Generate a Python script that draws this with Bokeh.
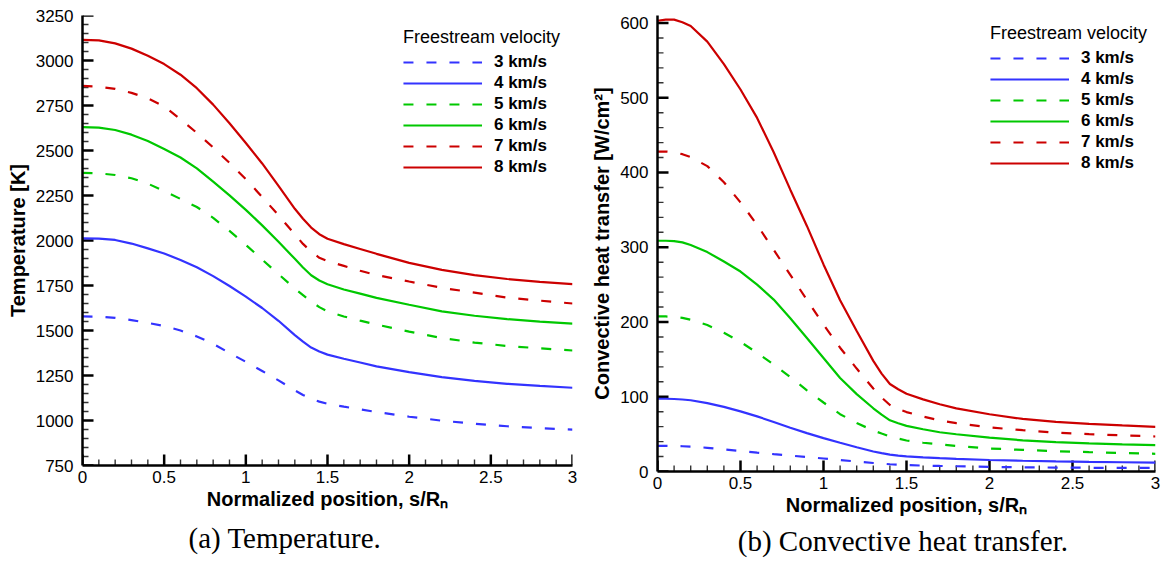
from bokeh.plotting import figure
from bokeh.models import Range1d, FixedTicker, NumeralTickFormatter, Legend, LegendItem, Title
from bokeh.layouts import row
from bokeh.embed import file_html
from bokeh.resources import INLINE
import numpy as np

# ---------------- data ----------------
velocities = ["3 km/s", "4 km/s", "5 km/s", "6 km/s", "7 km/s", "8 km/s"]

# (a) Temperature [K] vs normalized position s/Rn
pos_T = [0, 0.1, 0.2, 0.3, 0.4, 0.5, 0.6, 0.7, 0.8, 0.9, 1.0, 1.1, 1.2, 1.3, 1.35, 1.4,
         1.45, 1.5, 1.6, 1.7, 1.8, 2.0, 2.2, 2.4, 2.6, 2.8, 3.0]
T_3 = [1578, 1577, 1570, 1558, 1542, 1525, 1500, 1467, 1426, 1375, 1326, 1275, 1223, 1167,
       1142, 1120, 1105, 1093, 1077, 1062, 1047, 1021, 999, 982, 968, 958, 949]
T_4 = [2012, 2010, 2003, 1983, 1956, 1928, 1892, 1851, 1802, 1747, 1688, 1625, 1554, 1474,
       1438, 1405, 1383, 1366, 1343, 1322, 1301, 1269, 1241, 1220, 1204, 1192, 1182]
T_5 = [2376, 2373, 2364, 2346, 2316, 2274, 2231, 2186, 2126, 2053, 1976, 1894, 1813, 1733,
       1697, 1661, 1630, 1606, 1578, 1555, 1533, 1494, 1458, 1433, 1414, 1401, 1389]
T_6 = [2630, 2627, 2614, 2588, 2553, 2508, 2461, 2401, 2327, 2251, 2170, 2084, 1993, 1898,
       1850, 1807, 1778, 1757, 1728, 1705, 1681, 1643, 1606, 1582, 1563, 1549, 1538]
T_7 = [2859, 2855, 2842, 2820, 2790, 2745, 2673, 2598, 2517, 2431, 2341, 2242, 2140, 2034,
       1981, 1938, 1904, 1885, 1859, 1832, 1808, 1772, 1737, 1710, 1683, 1666, 1650]
T_8 = [3115, 3112, 3095, 3066, 3026, 2980, 2921, 2846, 2755, 2651, 2542, 2428, 2304, 2176,
       2121, 2072, 2035, 2010, 1980, 1953, 1926, 1876, 1837, 1808, 1786, 1770, 1758]

# (b) Convective heat transfer [W/cm^2] vs normalized position s/Rn
pos_q = [0, 0.05, 0.1, 0.15, 0.2, 0.3, 0.4, 0.5, 0.6, 0.7, 0.8, 0.9, 1.0, 1.1, 1.2, 1.3,
         1.35, 1.4, 1.45, 1.5, 1.6, 1.7, 1.8, 2.0, 2.2, 2.4, 2.6, 2.8, 3.0]
q_3 = [34.4, 34.4, 34.2, 33.8, 33.3, 31.7, 29.6, 27.5, 25.3, 23.2, 21.3, 19.3, 17.4, 15.4,
       13.3, 11.4, 10.5, 9.7, 9.1, 8.6, 7.9, 7.4, 7.0, 6.2, 5.6, 5.3, 5.0, 4.8, 4.7]
q_4 = [97.3, 97.3, 97.0, 96.3, 95.3, 91.5, 86.5, 80.4, 73.7, 66.3, 58.6, 51.3, 44.6, 38.4,
       32.4, 26.8, 24.5, 22.6, 21.3, 20.3, 18.9, 17.8, 16.9, 15.4, 14.4, 13.6, 12.9, 12.4, 12.0]
q_5 = [207.4, 207.4, 206.8, 205.5, 203.0, 196.0, 185.6, 173.4, 158.8, 143.2, 126.2, 108.6,
       92.3, 76.7, 64.8, 54.8, 50.8, 47.0, 44.0, 41.5, 38.5, 36.2, 34.2, 30.8, 28.9, 27.2,
       25.9, 24.8, 23.7]
q_6 = [308.7, 308.7, 308.2, 306.5, 303.0, 293.5, 281.0, 267.5, 250.0, 230.0, 205.0, 178.5,
       151.8, 125.0, 103.5, 84.6, 76.0, 68.5, 64.5, 61.0, 56.5, 52.5, 49.8, 45.2, 41.7, 39.3,
       37.6, 36.3, 35.2]
q_7 = [428.0, 428.0, 427.0, 424.5, 420.5, 408.5, 387.0, 360.0, 330.0, 296.5, 263.0, 229.7,
       196.4, 165.6, 137.7, 111.0, 99.0, 89.0, 83.5, 79.5, 73.5, 68.3, 64.6, 59.0, 55.3, 52.0,
       50.0, 48.4, 46.8]
q_8 = [603.0, 604.5, 604.5, 601.0, 596.0, 575.0, 545.0, 511.0, 473.0, 427.0, 377.0, 328.5,
       277.0, 229.0, 188.0, 148.0, 131.0, 117.0, 110.0, 104.0, 96.5, 90.0, 84.5, 76.6, 70.3,
       66.4, 63.7, 61.6, 59.8]

x_ticks = [0, 0.5, 1, 1.5, 2, 2.5, 3]
T_ticks = [750, 1000, 1250, 1500, 1750, 2000, 2250, 2500, 2750, 3000, 3250]
q_ticks = [0, 100, 200, 300, 400, 500, 600]

# ---------------- styles ----------------
colors = ["#3333ff", "#3333ff", "#00c800", "#00c800", "#cc0000", "#cc0000"]
dashes = ["10 13", "solid", "10 13", "solid", "10 13", "solid"]
SANS = "Liberation Sans"
SERIF = "Liberation Serif"
MAJOR_LEN = 11   # px, inward tick length
MINOR_LEN = 6


def style_axes(p, x_major, y_major):
    p.xaxis.ticker = FixedTicker(ticks=x_major, minor_ticks=[])
    p.yaxis.ticker = FixedTicker(ticks=y_major, minor_ticks=[])
    p.xaxis.formatter = NumeralTickFormatter(format="0.[0]")
    p.yaxis.formatter = NumeralTickFormatter(format="0")
    for ax in (p.xaxis[0], p.yaxis[0]):
        ax.axis_line_width = 2.5
        ax.axis_line_color = "black"
        ax.major_tick_in = 0
        ax.major_tick_out = 0
        ax.minor_tick_in = 0
        ax.minor_tick_out = 0
        ax.major_tick_line_color = None
        ax.minor_tick_line_color = None
        ax.major_label_text_font = SANS
        ax.major_label_text_font_size = "17px"
        ax.major_label_text_color = "black"
        ax.axis_label_text_font = SANS
        ax.axis_label_text_font_style = "bold"
        ax.axis_label_text_font_size = "20px"
        ax.axis_label_text_color = "black"
    p.xaxis.major_label_standoff = 5
    p.yaxis.major_label_standoff = 9
    p.xaxis.axis_label_standoff = 2
    p.yaxis.axis_label_standoff = 4
    p.grid.visible = False
    p.outline_line_color = None


def add_inward_ticks(p, xr, yr, fw, fh, y_major, y_minor_step):
    # tick marks pointing into the plot; pixel lengths converted to data units
    dx = (xr[1] - xr[0]) / fw
    dy = (yr[1] - yr[0]) / fh
    x_minor = [float(v) for v in np.round(np.arange(xr[0], xr[1] + 1e-9, 0.1), 2)
               if not any(abs(v - t) < 1e-9 for t in x_ticks)]
    y_minor = [float(v) for v in np.arange(yr[0], yr[1] + 1e-9, y_minor_step)
               if not any(abs(v - t) < 1e-9 for t in y_major)]
    ym = [float(v) for v in y_major]
    xm = [float(v) for v in x_ticks]
    p.segment(x0=[xr[0]] * len(ym), y0=ym, x1=[xr[0] + MAJOR_LEN * dx] * len(ym), y1=ym,
              line_color="black", line_width=2.5)
    p.segment(x0=[xr[0]] * len(y_minor), y0=y_minor,
              x1=[xr[0] + MINOR_LEN * dx] * len(y_minor), y1=y_minor,
              line_color="#333333", line_width=1.4)
    p.segment(x0=xm, y0=[yr[0]] * len(xm), x1=xm, y1=[yr[0] + MAJOR_LEN * dy] * len(xm),
              line_color="black", line_width=2.5)
    p.segment(x0=x_minor, y0=[yr[0]] * len(x_minor), x1=x_minor,
              y1=[yr[0] + MINOR_LEN * dy] * len(x_minor),
              line_color="#333333", line_width=1.4)


def make_plot(xs, series, xr, yr, y_major, y_minor_step, ylabel, caption,
              border_left, border_right, border_top, fw, fh, cap_align, cap_offset,
              cap_standoff, leg_margin):
    p = figure(frame_width=fw, frame_height=fh, x_range=Range1d(*xr), y_range=Range1d(*yr),
               output_backend="svg", toolbar_location=None,
               min_border_left=border_left, min_border_right=border_right,
               min_border_top=border_top, min_border_bottom=98)
    style_axes(p, x_ticks, y_major)
    add_inward_ticks(p, xr, yr, fw, fh, y_major, y_minor_step)
    p.xaxis.axis_label = "Normalized position, s/R\u2099"
    p.yaxis.axis_label = ylabel
    items = []
    for lab, ys, c, d in zip(velocities, series, colors, dashes):
        r = p.line(xs, ys, line_color=c, line_width=2.2, line_dash=d)
        items.append(LegendItem(label=lab, renderers=[r]))
    leg = Legend(items=items, title="Freestream velocity", location="top_right",
                 margin=leg_margin, padding=0, spacing=1,
                 glyph_width=79, glyph_height=20, label_height=20, label_standoff=12,
                 label_text_font=SANS, label_text_font_style="bold",
                 label_text_font_size="17px", label_text_color="black",
                 title_text_font=SANS, title_text_font_style="normal",
                 title_text_font_size="18px", title_text_color="black",
                 title_standoff=4, border_line_color=None, background_fill_alpha=0)
    p.add_layout(leg)
    p.add_layout(Title(text=caption, align=cap_align, offset=cap_offset,
                       text_font=SERIF, text_font_size="29px", text_font_style="normal",
                       text_color="black", standoff=cap_standoff), "below")
    return p


p1 = make_plot(pos_T, [T_3, T_4, T_5, T_6, T_7, T_8], (0, 3), (750, 3250), T_ticks, 50,
               "Temperature [K]", "(a)  Temperature.",
               82, 15, 15, 490, 450, "left", 106, 14, 12)
p2 = make_plot(pos_q, [q_3, q_4, q_5, q_6, q_7, q_8], (0, 3), (0, 610), q_ticks, 20,
               "Convective heat transfer [W/cm\u00b2]", "(b)  Convective heat transfer.",
               70, 15, 9, 498, 456, "center", 0, 8, 8)

layout = row(p1, p2)
open("out.html", "w").write(file_html(layout, INLINE))
